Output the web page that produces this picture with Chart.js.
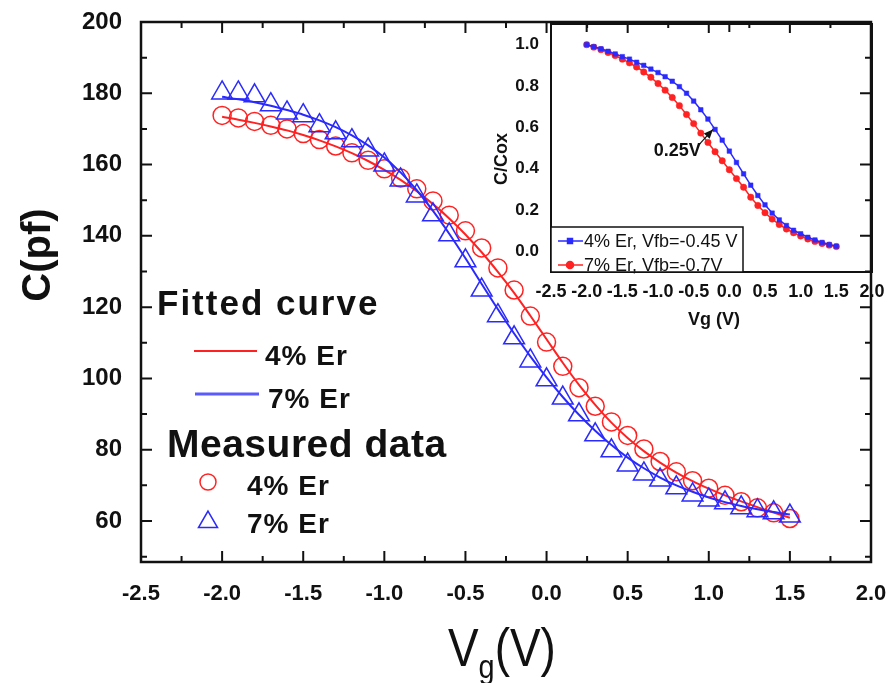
<!DOCTYPE html>
<html>
<head>
<meta charset="utf-8">
<script src="https://cdn.jsdelivr.net/npm/chart.js@4.4.1/dist/chart.umd.min.js"></script>
<style>
  body { margin: 0; background: #fff; }
  #wrap { position: relative; width: 890px; height: 683px; }
  #mainChart { position: absolute; left: 0; top: 0; }
  #insetChart { position: absolute; left: 480px; top: 0; }
</style>
</head>
<body>
<div id="wrap">
  <canvas id="mainChart" width="890" height="683"></canvas>
  <canvas id="insetChart" width="410" height="340"></canvas>
</div>
<script>
const FONT = "'Liberation Sans', Arial, Helvetica, sans-serif";
const INK = "#111";
const RED = "#ff2222";
const BLUE = "#2a2aff";

// gate voltage (V), 0.1 V steps
const vg = [-2.0, -1.9, -1.8, -1.7, -1.6, -1.5, -1.4, -1.3, -1.2, -1.1, -1.0, -0.9,
  -0.8, -0.7, -0.6, -0.5, -0.4, -0.3, -0.2, -0.1, 0.0, 0.1, 0.2, 0.3, 0.4, 0.5,
  0.6, 0.7, 0.8, 0.9, 1.0, 1.1, 1.2, 1.3, 1.4, 1.5];

// main plot, C (pF)
const fit4 = [173.4, 172.6, 171.7, 170.7, 169.6, 168.3, 166.8, 165.1, 163.2, 161.0, 158.5, 155.7,
  152.5, 148.9, 144.9, 140.4, 135.4, 129.9, 124.0, 117.6, 111.0, 104.4, 98.2, 92.6, 87.6, 83.3,
  79.6, 76.4, 73.6, 71.2, 69.1, 67.2, 65.5, 63.9, 62.4, 60.9];
const fit7 = [179.0, 178.3, 177.5, 176.5, 175.3, 174.0, 172.4, 170.5, 168.2, 165.4, 162.0, 157.8,
  152.8, 147.0, 140.6, 133.7, 126.5, 119.4, 112.6, 106.2, 100.3, 94.8, 89.8, 85.3, 81.3, 77.8,
  74.8, 72.2, 70.0, 68.2, 66.6, 65.3, 64.2, 63.3, 62.5, 61.8];
const meas4 = [173.8, 173.1, 172.1, 171.0, 170.0, 168.7, 167.0, 165.2, 163.3, 161.2, 158.8, 156.2,
  153.2, 149.8, 145.8, 141.4, 136.6, 131.0, 124.8, 117.5, 110.2, 103.4, 97.4, 92.2, 87.8, 84.0,
  80.2, 76.7, 73.8, 71.3, 69.2, 67.2, 65.4, 63.7, 62.3, 60.7];
const meas7 = [180.1, 180.1, 179.3, 176.8, 174.5, 173.7, 170.9, 168.9, 166.7, 164.1, 159.9, 155.7,
  151.2, 145.9, 140.3, 133.0, 124.8, 117.6, 111.4, 104.9, 99.6, 94.5, 89.8, 84.2, 79.7, 75.7,
  73.2, 71.5, 69.3, 67.3, 65.9, 65.1, 63.7, 62.9, 62.3, 61.4];
const yTicks = [60, 80, 100, 120, 140, 160, 180, 200];

// inset, C/Cox
const norm4 = [1.000, 0.990, 0.980, 0.968, 0.955, 0.942, 0.930, 0.915, 0.900, 0.882, 0.865, 0.845,
  0.823, 0.797, 0.765, 0.727, 0.685, 0.640, 0.590, 0.538, 0.485, 0.430, 0.375, 0.320, 0.270, 0.225,
  0.185, 0.152, 0.125, 0.102, 0.085, 0.068, 0.055, 0.043, 0.033, 0.025];
const norm7 = [1.000, 0.988, 0.976, 0.962, 0.947, 0.930, 0.912, 0.892, 0.868, 0.842, 0.812, 0.780,
  0.744, 0.705, 0.662, 0.618, 0.572, 0.527, 0.482, 0.438, 0.395, 0.352, 0.310, 0.262, 0.222, 0.187,
  0.156, 0.130, 0.108, 0.090, 0.074, 0.060, 0.048, 0.038, 0.030, 0.023];
const insetYTicks = [0.0, 0.2, 0.4, 0.6, 0.8, 1.0];

const pts = (xs, ys) => xs.map((v, i) => ({ x: v, y: ys[i] }));
const fmt1 = (v) => (Math.abs(v) < 1e-9 ? 0 : v).toFixed(1);

// Frame, inward ticks, titles and legend of the main plot
const mainDecor = {
  id: "mainDecor",
  afterDraw(chart) {
    const { ctx, chartArea: a, scales: { x, y } } = chart;
    ctx.save();
    ctx.strokeStyle = INK;
    ctx.lineWidth = 2.5;
    ctx.strokeRect(a.left, a.top, a.right - a.left, a.bottom - a.top);

    ctx.lineWidth = 2;
    ctx.beginPath();
    for (let i = 0; i <= 18; i++) {
      const px = x.getPixelForValue(-2.5 + i * 0.25);
      const len = i % 2 === 0 ? 11 : 6;
      ctx.moveTo(px, a.bottom); ctx.lineTo(px, a.bottom - len);
      ctx.moveTo(px, a.top); ctx.lineTo(px, a.top + len);
    }
    for (let v = 50; v <= 200; v += 10) {
      const py = y.getPixelForValue(v);
      const len = v % 20 === 0 ? 11 : 6;
      ctx.moveTo(a.left, py); ctx.lineTo(a.left + len, py);
      ctx.moveTo(a.right, py); ctx.lineTo(a.right - len, py);
    }
    ctx.stroke();

    // y title
    ctx.fillStyle = INK;
    ctx.save();
    ctx.translate(50, 255);
    ctx.rotate(-Math.PI / 2);
    ctx.font = `bold 40px ${FONT}`;
    ctx.textAlign = "center";
    ctx.textBaseline = "alphabetic";
    ctx.fillText("C(pf)", 0, 0);
    ctx.restore();

    // x title V_g(V)
    ctx.save();
    ctx.translate(448, 666);
    ctx.scale(0.85, 1);
    ctx.textAlign = "left";
    ctx.font = `54px ${FONT}`;
    ctx.fillText("V", 0, 0);
    let w = ctx.measureText("V").width;
    ctx.font = `34px ${FONT}`;
    ctx.fillText("g", w, 12);
    w += ctx.measureText("g").width;
    ctx.font = `54px ${FONT}`;
    ctx.fillText("(V)", w, 0);
    ctx.restore();

    // legend
    ctx.textAlign = "left";
    ctx.textBaseline = "alphabetic";
    ctx.letterSpacing = "2px";
    ctx.font = `bold 35px ${FONT}`;
    ctx.fillText("Fitted curve", 157, 315);
    ctx.letterSpacing = "0.5px";
    ctx.font = `bold 39px ${FONT}`;
    ctx.fillText("Measured data", 167, 457);
    ctx.letterSpacing = "1px";
    ctx.font = `bold 28px ${FONT}`;
    ctx.fillText("4% Er", 265, 365);
    ctx.fillText("7% Er", 268, 408);
    ctx.fillText("4% Er", 247, 495);
    ctx.fillText("7% Er", 247, 533);
    ctx.letterSpacing = "0px";

    ctx.lineWidth = 2;
    ctx.strokeStyle = RED;
    ctx.beginPath(); ctx.moveTo(194, 351); ctx.lineTo(257, 351); ctx.stroke();
    ctx.lineWidth = 3;
    ctx.strokeStyle = "#5a5aff";
    ctx.beginPath(); ctx.moveTo(195, 394); ctx.lineTo(259, 394); ctx.stroke();

    ctx.lineWidth = 1.5;
    ctx.strokeStyle = RED;
    ctx.beginPath(); ctx.arc(208, 482, 8, 0, Math.PI * 2); ctx.stroke();
    ctx.strokeStyle = BLUE;
    ctx.fillStyle = "rgba(0,0,0,0)";
    Chart.helpers.drawPoint(ctx, { pointStyle: "triangle", radius: 11, borderWidth: 1.5 }, 208, 522);
    ctx.restore();
  }
};

new Chart(document.getElementById("mainChart"), {
  type: "line",
  data: {
    datasets: [
      {
        label: "7% Er measured", data: pts(vg, meas7), showLine: false, order: 1,
        pointStyle: "triangle", pointRadius: 12, pointBorderWidth: 1.5,
        pointBorderColor: BLUE, pointBackgroundColor: "rgba(0,0,0,0)"
      },
      {
        label: "4% Er measured", data: pts(vg, meas4), showLine: false, order: 4,
        pointStyle: "circle", pointRadius: 9, pointBorderWidth: 1.5,
        pointBorderColor: RED, pointBackgroundColor: "rgba(0,0,0,0)"
      },
      {
        label: "4% Er fit", data: pts(vg, fit4), order: 3, borderColor: RED, borderWidth: 2,
        pointRadius: 0, cubicInterpolationMode: "monotone"
      },
      {
        label: "7% Er fit", data: pts(vg, fit7), order: 2, borderColor: BLUE, borderWidth: 2,
        pointRadius: 0, cubicInterpolationMode: "monotone"
      }
    ]
  },
  options: {
    responsive: false,
    animation: false,
    devicePixelRatio: 1,
    layout: { padding: { left: 0, top: 22, right: 19, bottom: 0 } },
    plugins: { legend: { display: false }, tooltip: { enabled: false } },
    scales: {
      x: {
        type: "linear", min: -2.5, max: 2.0,
        grid: { display: false }, border: { display: false },
        ticks: {
          stepSize: 0.5, autoSkip: false, maxRotation: 0, padding: 11,
          color: INK, font: { family: FONT, size: 22, weight: "bold" },
          callback: fmt1
        },
        afterFit(scale) { scale.height = 121; scale.paddingLeft = 0; scale.paddingRight = 0; }
      },
      y: {
        type: "linear", min: 48.5, max: 200,
        grid: { display: false }, border: { display: false },
        afterBuildTicks(scale) { scale.ticks = yTicks.map((v) => ({ value: v })); },
        ticks: {
          padding: 11, color: INK, font: { family: FONT, size: 24, weight: "bold" },
          callback: (v) => String(v)
        },
        afterFit(scale) { scale.width = 141; scale.paddingTop = 0; scale.paddingBottom = 0; }
      }
    }
  },
  plugins: [mainDecor]
});

// Inset frame, titles, legend and the 0.25 V marker
const insetDecor = {
  id: "insetDecor",
  afterDraw(chart) {
    const { ctx, chartArea: a, scales: { x, y } } = chart;
    ctx.save();
    ctx.strokeStyle = INK;
    ctx.lineWidth = 2;
    ctx.strokeRect(a.left, a.top, a.right - a.left, a.bottom - a.top);
    ctx.beginPath();
    [-2.0, 0.0].forEach((v) => {
      const px = x.getPixelForValue(v);
      ctx.moveTo(px, a.top); ctx.lineTo(px, a.top + 8);
    });
    ctx.stroke();

    ctx.fillStyle = INK;
    ctx.font = `bold 18px ${FONT}`;
    ctx.textAlign = "center";
    ctx.textBaseline = "middle";
    ctx.fillText("Vg (V)", 234, 320);
    ctx.save();
    ctx.translate(22, 159);
    ctx.rotate(-Math.PI / 2);
    ctx.fillText("C/Cox", 0, 0);
    ctx.restore();

    // legend box
    const bx = a.left, by = 227, bw = 192, bh = a.bottom - 227;
    ctx.fillStyle = "#fff";
    ctx.fillRect(bx, by, bw, bh);
    ctx.lineWidth = 1.5;
    ctx.strokeRect(bx, by, bw, bh);
    const rows = [
      { text: "4% Er, Vfb=-0.45 V", color: BLUE, style: "rect", yy: 241 },
      { text: "7% Er, Vfb=-0.7V", color: RED, style: "circle", yy: 265 }
    ];
    rows.forEach((r) => {
      ctx.strokeStyle = r.color;
      ctx.fillStyle = r.color;
      ctx.lineWidth = 1.5;
      ctx.beginPath(); ctx.moveTo(bx + 7, r.yy); ctx.lineTo(bx + 32, r.yy); ctx.stroke();
      Chart.helpers.drawPoint(ctx, { pointStyle: r.style, radius: 3.5, borderWidth: 1 }, bx + 19, r.yy);
      ctx.fillStyle = INK;
      ctx.font = `18px ${FONT}`;
      ctx.textAlign = "left";
      ctx.textBaseline = "middle";
      ctx.fillText(r.text, bx + 33, r.yy + 1);
    });

    // 0.25V arrow
    const tx = x.getPixelForValue(-0.23), ty = y.getPixelForValue(0.59);
    const sx = x.getPixelForValue(-0.44), sy = y.getPixelForValue(0.51);
    ctx.strokeStyle = INK;
    ctx.fillStyle = INK;
    ctx.lineWidth = 1.2;
    ctx.beginPath(); ctx.moveTo(sx, sy); ctx.lineTo(tx, ty); ctx.stroke();
    const ang = Math.atan2(ty - sy, tx - sx);
    ctx.beginPath();
    ctx.moveTo(tx, ty);
    ctx.lineTo(tx - 10 * Math.cos(ang - 0.4), ty - 10 * Math.sin(ang - 0.4));
    ctx.lineTo(tx - 10 * Math.cos(ang + 0.4), ty - 10 * Math.sin(ang + 0.4));
    ctx.closePath();
    ctx.fill();
    ctx.font = `bold 18px ${FONT}`;
    ctx.textAlign = "right";
    ctx.textBaseline = "alphabetic";
    ctx.fillText("0.25V", x.getPixelForValue(-0.40), y.getPixelForValue(0.463));
    ctx.restore();
  }
};

new Chart(document.getElementById("insetChart"), {
  type: "line",
  data: {
    datasets: [
      {
        label: "4% Er, Vfb=-0.45 V", data: pts(vg, norm4), borderColor: BLUE, backgroundColor: BLUE,
        borderWidth: 1.5, pointStyle: "rect", pointRadius: 3.2, pointBorderWidth: 0.5
      },
      {
        label: "7% Er, Vfb=-0.7V", data: pts(vg, norm7), borderColor: RED, backgroundColor: RED,
        borderWidth: 1.5, pointStyle: "circle", pointRadius: 3.2, pointBorderWidth: 0.5
      }
    ]
  },
  options: {
    responsive: false,
    animation: false,
    devicePixelRatio: 1,
    layout: { padding: { left: 0, top: 24, right: 18, bottom: 0 } },
    plugins: { legend: { display: false }, tooltip: { enabled: false } },
    scales: {
      x: {
        type: "linear", min: -2.5, max: 2.0,
        grid: { display: false }, border: { display: false },
        ticks: {
          stepSize: 0.5, autoSkip: false, maxRotation: 0, padding: 1,
          color: INK, font: { family: FONT, size: 18, weight: "bold" },
          callback: fmt1
        },
        afterFit(scale) { scale.height = 68; scale.paddingLeft = 0; scale.paddingRight = 0; }
      },
      y: {
        type: "linear", min: -0.1, max: 1.1,
        grid: { display: false }, border: { display: false },
        afterBuildTicks(scale) { scale.ticks = insetYTicks.map((v) => ({ value: v })); },
        ticks: {
          padding: 4, color: INK, font: { family: FONT, size: 17, weight: "bold" },
          callback: fmt1
        },
        afterFit(scale) { scale.width = 71; scale.paddingTop = 0; scale.paddingBottom = 0; }
      }
    }
  },
  plugins: [insetDecor]
});
</script>
</body>
</html>
